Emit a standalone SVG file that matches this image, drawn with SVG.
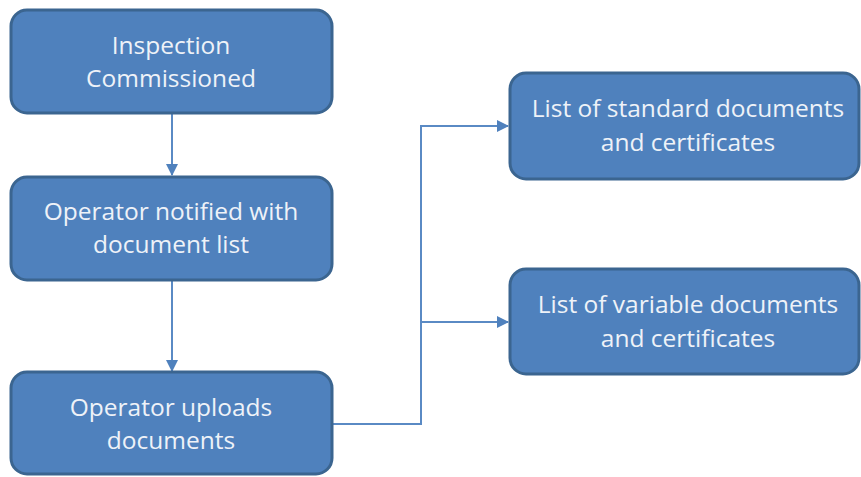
<svg xmlns="http://www.w3.org/2000/svg" width="861" height="477" viewBox="0 0 861 477">
<style>
.box{fill:#4f81bd;stroke:#3b6590;stroke-width:3}
.t{font-family:"Open Sans","Liberation Sans",sans-serif;font-size:24.5px;fill:#eef2f8;text-anchor:middle}
.c{fill:none;stroke:#5a8ac4;stroke-width:2}
</style>
<defs>
<marker id="ah" markerWidth="12" markerHeight="13" refX="11" refY="6.5" orient="auto" markerUnits="userSpaceOnUse">
<path d="M0,0.5 L12,6.5 L0,12.5 z" fill="#4f81bd"/>
</marker>
</defs>
<rect width="861" height="477" fill="#ffffff"/>
<g id="connectors">
<path class="c" d="M172,114 V175" marker-end="url(#ah)"/>
<path class="c" d="M172,281 V371" marker-end="url(#ah)"/>
<path class="c" d="M333,424 H421 V126 H508" marker-end="url(#ah)"/>
<path class="c" d="M421,322 H508" marker-end="url(#ah)"/>
</g>
<g id="n1">
<rect class="box" x="11" y="10" width="321" height="103" rx="16"/>
<text class="t" x="171" y="54">Inspection</text>
<text class="t" x="171" y="87">Commissioned</text>
</g>
<g id="n2">
<rect class="box" x="11" y="177" width="321" height="103" rx="16"/>
<text class="t" x="171" y="220">Operator notified with</text>
<text class="t" x="171" y="253">document list</text>
</g>
<g id="n3">
<rect class="box" x="11" y="372" width="321" height="102" rx="16"/>
<text class="t" x="171" y="416">Operator uploads</text>
<text class="t" x="171" y="449">documents</text>
</g>
<g id="n4">
<rect class="box" x="510" y="73" width="349" height="106" rx="16"/>
<text class="t" x="688" y="117">List of standard documents</text>
<text class="t" x="688" y="151">and certificates</text>
</g>
<g id="n5">
<rect class="box" x="510" y="269" width="349" height="105" rx="16"/>
<text class="t" x="688" y="313">List of variable documents</text>
<text class="t" x="688" y="347">and certificates</text>
</g>
</svg>
